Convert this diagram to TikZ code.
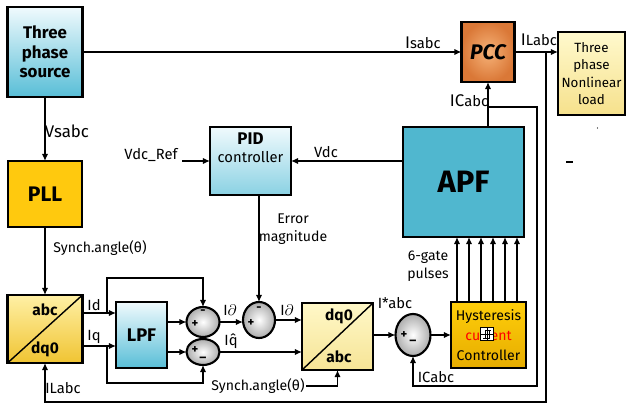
\documentclass[tikz,border=0pt]{standalone}
\usepackage{fontspec}
\setmainfont{Fira Sans}
\usetikzlibrary{arrows.meta, positioning, shapes.geometric, calc}

\definecolor{srctop}{RGB}{240,250,253}
\definecolor{srcbot}{RGB}{88,190,215}
\definecolor{pccin}{RGB}{246,178,120}
\definecolor{pccout}{RGB}{218,120,55}
\definecolor{loadtop}{RGB}{255,249,205}
\definecolor{loadbot}{RGB}{246,225,140}
\definecolor{pllgold}{RGB}{255,201,14}
\definecolor{apfblue}{RGB}{80,183,207}
\definecolor{trtop}{RGB}{255,240,165}
\definecolor{trbot}{RGB}{240,196,50}
\definecolor{invtop}{RGB}{255,248,200}
\definecolor{invbot}{RGB}{246,228,150}
\definecolor{hystop}{RGB}{255,206,10}
\definecolor{hysbot}{RGB}{230,172,0}

\begin{document}
\begin{tikzpicture}[x=0.025cm, y=-0.025cm,
    wire/.style={line width=1.3pt},
    arr/.style={wire, -{Latex[length=5pt,width=4.5pt]}},
    blk/.style={draw, line width=1.6pt, inner sep=0pt, outer sep=0pt, align=center},
    sumc/.style={ellipse, draw, line width=1.5pt, inner sep=0pt, outer sep=0pt,
                 shading=radial, inner color=white, outer color=gray!65},
    lbl/.style={font=\fontsize{10.5}{12}\selectfont, inner sep=1pt, align=center},
    sgn/.style={font=\bfseries\small, inner sep=0pt}]
  \useasboundingbox (0,0) rectangle (628,405);

  % blocks
  \node[blk, minimum width=1.875cm, minimum height=2.25cm, top color=srctop, bottom color=srcbot,
        font=\bfseries\fontsize{12}{14}\selectfont] (src) at (45,52) {Three\\phase\\source};
  \node[blk, minimum width=1.325cm, minimum height=1.5cm, shading=radial, inner color=pccin, outer color=pccout,
        font=\bfseries\itshape\fontsize{15}{17}\selectfont] (pcc) at (488,52) {PCC};
  \node[blk, minimum width=1.675cm, minimum height=2.075cm, top color=loadtop, bottom color=loadbot,
        font=\fontsize{9.5}{12.5}\selectfont] (load) at (591.5,73.5) {Three\\phase\\Nonlinear\\load};
  \node[blk, minimum width=1.85cm, minimum height=1.65cm, fill=pllgold,
        font=\bfseries\fontsize{15}{17}\selectfont] (pll) at (45,194) {PLL};
  \node[blk, minimum width=2.025cm, minimum height=1.7cm, top color=srctop, bottom color=srcbot!70,
        font=\fontsize{10.5}{13}\selectfont] (pid) at (250.5,161) {{\bfseries\fontsize{12}{13}\selectfont PID}\\controller\\[6pt]};
  \node[blk, minimum width=3.025cm, minimum height=2.75cm, fill=apfblue,
        font=\bfseries\fontsize{22}{24}\selectfont] (apf) at (463.5,182) {APF};
  \node[blk, minimum width=1.875cm, minimum height=1.7cm, top color=trtop, bottom color=trbot] (abcdq) at (45,329) {};
  \node[blk, minimum width=1.275cm, minimum height=1.65cm, top color=srctop, bottom color=srcbot,
        font=\bfseries\fontsize{13}{15}\selectfont] (lpf) at (141.5,335) {LPF};
  \node[blk, minimum width=1.775cm, minimum height=1.675cm, top color=invtop, bottom color=invbot] (dqabc) at (337.5,336.5) {};
  \node[blk, minimum width=1.875cm, minimum height=1.65cm, top color=hystop, bottom color=hysbot,
        font=\fontsize{10}{14}\selectfont] (hyst) at (488.5,335) {Hysteresis\\\textcolor{red}{current}\\Controller};

  % transform blocks
  \draw[line width=1pt] (abcdq.south west) -- (abcdq.north east);
  \node[font=\bfseries\fontsize{11}{12}\selectfont] (abcdqt) at (45,310) {abc};
  \node[font=\bfseries\fontsize{11}{12}\selectfont] (abcdqb) at (45,349) {dq0};
  \draw[line width=1pt] (dqabc.south west) -- (dqabc.north east);
  \node[font=\bfseries\fontsize{11}{12}\selectfont] (dqabct) at (339,316) {dq0};
  \node[font=\bfseries\fontsize{11}{12}\selectfont] (dqabcb) at (339,357) {abc};

  % hysteresis symbol
  \node[draw, fill=white, line width=0.8pt, minimum size=0.32cm, inner sep=0pt] (hicon) at (487,334) {};
  \draw[line width=0.5pt] (483,338) -- (489,338) -- (489,330);
  \draw[line width=0.5pt] (485,338) -- (485,330) -- (491,330);
  \draw[line width=0.4pt] (487,328) -- (487,340) (481,334) -- (493,334);

  % summing junctions
  \node[sumc, minimum width=0.825cm, minimum height=0.75cm] (s1) at (203,322) {};
  \node[sumc, minimum width=0.825cm, minimum height=0.65cm] (s3) at (203,352) {};
  \node[sumc, minimum width=0.8cm, minimum height=0.9cm] (s2) at (259,320) {};
  \node[sumc, minimum width=0.875cm, minimum height=1.05cm] (s4) at (413,335) {};
  \node[sgn] at (195,324) {+};
  \node[sgn] at (203,312) {-};
  \node[sgn] at (259,309) {-};
  \node[sgn] at (251,323) {+};
  \node[sgn] at (195,350) {+};
  \node[sgn] at (203,358) {\_};
  \node[sgn] at (404,335) {+};
  \node[sgn] at (413,341) {\_};

  % power side
  \draw[arr] (src.east) -- (pcc.west);
  \node[lbl] (isl) at (423,43) {{\fontsize{12}{12}\selectfont I}sabc};
  \coordinate (jl) at (546,52);
  \draw[arr] (pcc.east) -- (load.west |- pcc.east);
  \node[lbl] (ill) at (539,40) {{\fontsize{12}{12}\selectfont I}Labc};
  \coordinate (ilb) at (546,402);
  \draw[arr] (jl) -- (ilb) -| (abcdq.south);
  \node[lbl] (ilbl) at (63,388) {ILabc};
  \draw[arr] (apf.north -| pcc.south) -- (pcc.south);
  \node[lbl] (icl) at (469,101) {{\fontsize{12}{12}\selectfont IC}abc};
  \coordinate (jc) at (488,107);
  \coordinate (cb) at (537,386);
  \draw[arr] (jc) -| (cb) -| (s4.south);
  \node[lbl] (icbl) at (436,377) {ICabc};

  % PLL and PID
  \draw[arr] (src.south) -- (pll.north);
  \node[lbl, font=\fontsize{12}{13}\selectfont] (vsl) at (67,131) {Vsabc};
  \draw[arr] (pll.south) -- (abcdq.north);
  \node[lbl, font=\fontsize{10}{12}\selectfont] (syn1) at (100,248) {Synch.angle(θ)};
  \node[lbl] (vref) at (151,155) {Vdc\_Ref};
  \coordinate (vrefe) at (182,161);
  \draw[arr] (vrefe) -- (pid.west);
  \draw[arr] (apf.west |- pid.east) -- (pid.east);
  \node[lbl] (vdcl) at (326,152) {Vdc};
  \draw[arr] (pid.south -| s2.north) -- (s2.north);
  \node[lbl, font=\fontsize{10}{13}\selectfont] (errl) at (293,229) {Error\\magnitude};

  % dq path
  \coordinate (idp) at ($(abcdq.east)+(0,-16)$);
  \coordinate (iqp) at ($(abcdq.east)+(0,17)$);
  \draw[arr] (idp) -- (idp -| lpf.west);
  \draw[arr] (iqp) -- (iqp -| lpf.west);
  \node[lbl] (idl) at (94,305) {Id};
  \node[lbl] (iql) at (94,337) {Iq};
  \coordinate (bd) at (107,313);
  \coordinate (bq) at (107,346);
  \draw[arr] (bd) -- ++(0,-35) -| (s1.north);
  \draw[arr] (bq) -- ++(0,37) -| (s3.south);
  \draw[arr] (lpf.east |- s1.west) -- (s1.west);
  \draw[arr] (lpf.east |- s3.west) -- (s3.west);
  \draw[arr] (s1.east) -- (s2.west |- s1.east);
  \node[lbl] (idt1) at (230,310) {I$\partial$};
  \draw[arr] (s3.east) -- (s3.east -| dqabc.west);
  \node[lbl] (iqt) at (231,341) {Iq̂};
  \draw[arr] (s2.east) -- (s2.east -| dqabc.west);
  \node[lbl] (idt2) at (287,310) {I$\partial$};
  \node[lbl, font=\fontsize{10}{12}\selectfont] (syn2) at (258,386) {Synch.angle(θ)};
  \draw[arr] (syn2.east) -| (dqabc.south);
  \draw[arr] (dqabc.east |- s4.west) -- (s4.west);
  \node[lbl] (ist) at (395,303) {I*abc};
  \draw[arr] (s4.east) -- (s4.east -| hyst.west);

  % gate pulses
  \foreach \gx in {457,469,481,493,505,517}
    \draw[arr] (hyst.north -| \gx,0) -- (apf.south -| \gx,0);
  \node[lbl, font=\fontsize{10}{13}\selectfont] (gl) at (428,266) {6-gate\\pulses};

  % stray marks
  \draw[line width=0.8pt] (566,162) -- (573,162);
  \fill (597.5,128) circle (0.5pt);
\end{tikzpicture}
\end{document}
